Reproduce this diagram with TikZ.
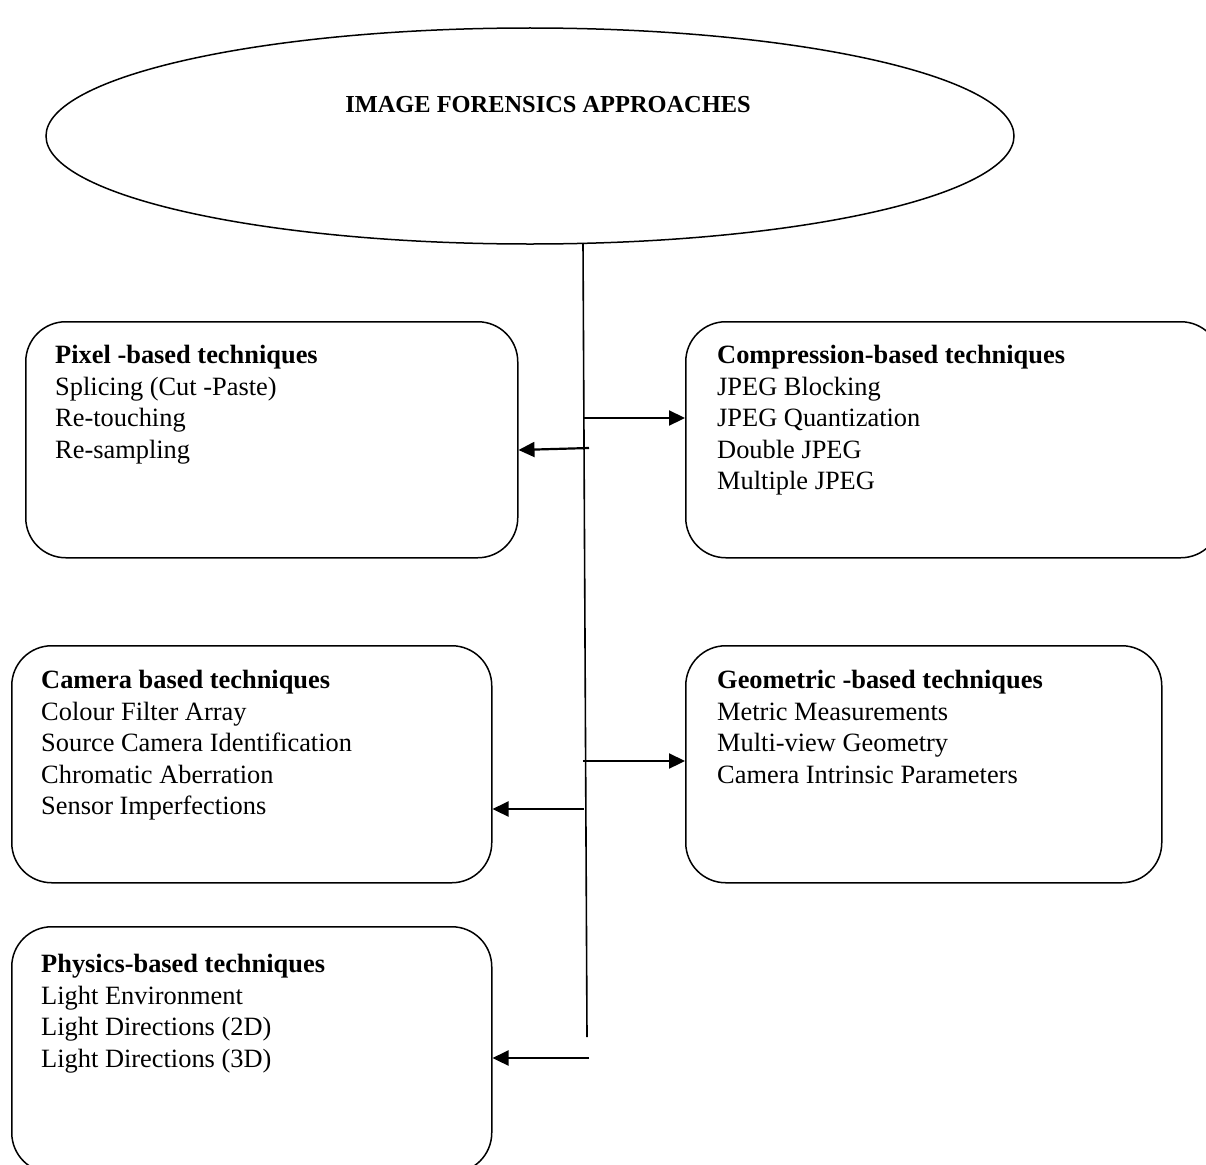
\documentclass[tikz,border=0pt]{standalone}
\usepackage{fontspec}
\setmainfont{Liberation Serif}
\usetikzlibrary{shapes.geometric,arrows.meta,calc}
\begin{document}
\begin{tikzpicture}[x=1pt,y=-1pt,
  box/.style={draw,line width=1.5pt,rounded corners=40pt,minimum width=#1,anchor=north west,inner sep=0pt},
  txt/.style={anchor=north west,align=left,inner sep=0pt,font=\fontsize{26.4}{31.6}\selectfont},
  arr/.style={line width=2.2pt,-{Triangle[length=16pt,width=15pt]}},
  trunk/.style={line width=1.6pt}]
\useasboundingbox (0,0) rectangle (1206,1164);
\clip (0,0) rectangle (1206,1164);
\node[draw,ellipse,line width=1.5pt,minimum width=968pt,minimum height=216pt,inner sep=0pt] (ell) at (530,136) {};
\node[font=\fontsize{24.4}{28}\selectfont\bfseries] (title) at (548,105) {IMAGE FORENSICS APPROACHES};
% boxes
\node[box=492pt,minimum height=236pt] (pix) at (25,321) {};
\node[box=535pt,minimum height=236pt] (comp) at (685,321) {};
\node[box=480pt,minimum height=237pt] (cam) at (11,645) {};
\node[box=476pt,minimum height=237pt] (geo) at (685,645) {};
\node[box=480pt,minimum height=246pt] (phys) at (11,926) {};
% texts
\node[txt] (pixt) at (55,345) {\textbf{Pixel -based techniques}\\Splicing (Cut -Paste)\\Re-touching\\Re-sampling};
\node[txt] (compt) at (717,345) {\textbf{Compression-based techniques}\\JPEG Blocking\\JPEG Quantization\\Double JPEG\\Multiple JPEG};
\node[txt] (camt) at (41,670) {\textbf{Camera based techniques}\\Colour Filter Array\\Source Camera Identification\\Chromatic Aberration\\Sensor Imperfections};
\node[txt] (geot) at (717,670) {\textbf{Geometric -based techniques}\\Metric Measurements\\Multi-view Geometry\\Camera Intrinsic Parameters};
\node[txt] (physt) at (41,954) {\textbf{Physics-based techniques}\\Light Environment\\Light Directions (2D)\\Light Directions (3D)};
% trunk
\coordinate (ttop) at (583,243);
\coordinate (tbot) at (587,1037);
\draw[trunk] (ttop) -- (tbot);
% arrow start points
\coordinate (a1) at (583,418);
\coordinate (a2) at (589,448);
\coordinate (a3) at (583,761);
\coordinate (a4) at (584,809);
\coordinate (a5) at (589,1058);
\draw[arr] (a1) -- (a1 -| comp.west);
\draw[arr] (a2) -- (pix.east |- 0,450);
\draw[arr] (a3) -- (a3 -| geo.west);
\draw[arr] (a4) -- (a4 -| cam.east);
\draw[arr] (a5) -- (a5 -| phys.east);
\end{tikzpicture}
\end{document}
